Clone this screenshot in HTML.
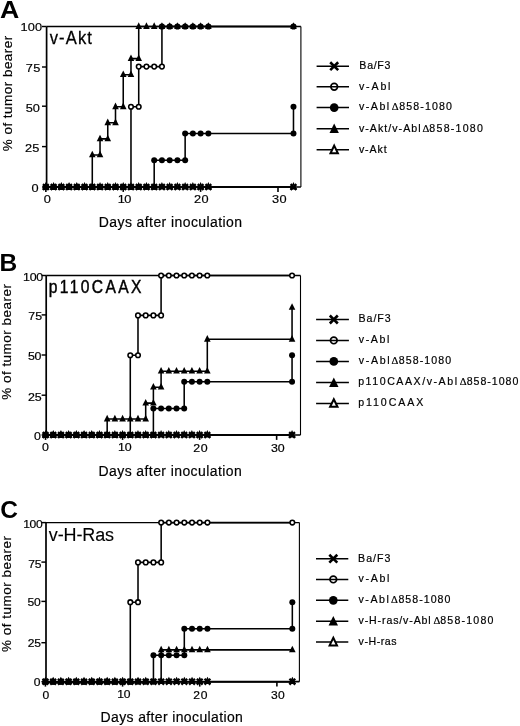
<!DOCTYPE html>
<html><head><meta charset="utf-8"><style>
html,body{margin:0;padding:0;background:#fff;}
body{width:520px;height:726px;overflow:hidden;}
svg{display:block;filter:grayscale(1);}
svg text{font-family:"Liberation Sans",sans-serif;fill:#000;stroke:#000;stroke-width:0.18px;}
</style></head><body>
<svg width="520" height="726" viewBox="0 0 520 726">
<path d="M46.6 26.5H300.9" stroke="#000" stroke-width="1.4" fill="none"/>
<path d="M300.9 26.5V187" stroke="#000" stroke-width="1.1" fill="none"/>
<path d="M46.6 26.5V187H300.9" stroke="#000" stroke-width="1.7" fill="none"/>
<path d="M42 26.5H46.6" stroke="#000" stroke-width="1.45"/>
<path d="M42 67H46.6" stroke="#000" stroke-width="1.45"/>
<path d="M42 106.2H46.6" stroke="#000" stroke-width="1.45"/>
<path d="M42 146.6H46.6" stroke="#000" stroke-width="1.45"/>
<path d="M42 187H46.6" stroke="#000" stroke-width="1.45"/>
<path d="M45.86 187V191.9" stroke="#000" stroke-width="1.6"/>
<path d="M123.24 187V191.9" stroke="#000" stroke-width="1.6"/>
<path d="M200.62 187V191.9" stroke="#000" stroke-width="1.6"/>
<path d="M278 187V191.9" stroke="#000" stroke-width="1.6"/>
<path d="M45.86 187 L53.6 187 L61.34 187 L69.07 187 L76.81 187 L84.55 187 L92.29 187 L100.03 187 L107.76 187 L115.5 187 L123.24 187 L130.98 187 L130.98 106.75 L138.72 106.75 L138.72 66.62 L146.45 66.62 L154.19 66.62 L161.93 66.62 L161.93 26.5 L169.67 26.5 L177.41 26.5 L185.14 26.5 L192.88 26.5 L200.62 26.5 L208.36 26.5 L293.48 26.5" stroke="#000" stroke-width="1.55" fill="none"/>
<path d="M45.86 187 L53.6 187 L61.34 187 L69.07 187 L76.81 187 L84.55 187 L92.29 187 L100.03 187 L107.76 187 L115.5 187 L123.24 187 L130.98 187 L138.72 187 L146.45 187 L154.19 187 L161.93 187 L169.67 187 L177.41 187 L185.14 187 L192.88 187 L200.62 187 L208.36 187 L293.48 187" stroke="#000" stroke-width="1.55" fill="none"/>
<path d="M45.86 187 L53.6 187 L61.34 187 L69.07 187 L76.81 187 L84.55 187 L92.29 187 L100.03 187 L107.76 187 L115.5 187 L123.24 187 L130.98 187 L138.72 187 L146.45 187 L154.19 187 L154.19 160.25 L161.93 160.25 L169.67 160.25 L177.41 160.25 L185.14 160.25 L185.14 133.5 L192.88 133.5 L200.62 133.5 L208.36 133.5 L293.48 133.5 L293.48 106.75" stroke="#000" stroke-width="1.55" fill="none"/>
<path d="M45.86 187 L53.6 187 L61.34 187 L69.07 187 L76.81 187 L84.55 187 L92.29 187 L92.29 154.9 L100.03 154.9 L100.03 138.85 L107.76 138.85 L107.76 122.8 L115.5 122.8 L115.5 106.75 L123.24 106.75 L123.24 74.65 L130.98 74.65 L130.98 58.6 L138.72 58.6 L138.72 26.5 L146.45 26.5 L154.19 26.5 L161.93 26.5 L169.67 26.5 L177.41 26.5 L185.14 26.5 L192.88 26.5 L200.62 26.5 L208.36 26.5 L293.48 26.5" stroke="#000" stroke-width="1.55" fill="none"/>
<path d="M45.86 187 L53.6 187 L61.34 187 L69.07 187 L76.81 187 L84.55 187 L92.29 187 L100.03 187 L107.76 187 L115.5 187 L123.24 187 L130.98 187 L138.72 187 L146.45 187 L154.19 187 L161.93 187 L169.67 187 L177.41 187 L185.14 187 L192.88 187 L200.62 187 L208.36 187 L293.48 187" stroke="#000" stroke-width="1.55" fill="none"/>
<circle cx="45.86" cy="187" r="2.3" fill="#fff" stroke="#000" stroke-width="1.55"/><circle cx="53.6" cy="187" r="2.3" fill="#fff" stroke="#000" stroke-width="1.55"/><circle cx="61.34" cy="187" r="2.3" fill="#fff" stroke="#000" stroke-width="1.55"/><circle cx="69.07" cy="187" r="2.3" fill="#fff" stroke="#000" stroke-width="1.55"/><circle cx="76.81" cy="187" r="2.3" fill="#fff" stroke="#000" stroke-width="1.55"/><circle cx="84.55" cy="187" r="2.3" fill="#fff" stroke="#000" stroke-width="1.55"/><circle cx="92.29" cy="187" r="2.3" fill="#fff" stroke="#000" stroke-width="1.55"/><circle cx="100.03" cy="187" r="2.3" fill="#fff" stroke="#000" stroke-width="1.55"/><circle cx="107.76" cy="187" r="2.3" fill="#fff" stroke="#000" stroke-width="1.55"/><circle cx="115.5" cy="187" r="2.3" fill="#fff" stroke="#000" stroke-width="1.55"/><circle cx="123.24" cy="187" r="2.3" fill="#fff" stroke="#000" stroke-width="1.55"/><circle cx="130.98" cy="187" r="2.3" fill="#fff" stroke="#000" stroke-width="1.55"/><circle cx="130.98" cy="106.75" r="2.3" fill="#fff" stroke="#000" stroke-width="1.55"/><circle cx="138.72" cy="106.75" r="2.3" fill="#fff" stroke="#000" stroke-width="1.55"/><circle cx="138.72" cy="66.62" r="2.3" fill="#fff" stroke="#000" stroke-width="1.55"/><circle cx="146.45" cy="66.62" r="2.3" fill="#fff" stroke="#000" stroke-width="1.55"/><circle cx="154.19" cy="66.62" r="2.3" fill="#fff" stroke="#000" stroke-width="1.55"/><circle cx="161.93" cy="66.62" r="2.3" fill="#fff" stroke="#000" stroke-width="1.55"/><circle cx="161.93" cy="26.5" r="2.3" fill="#fff" stroke="#000" stroke-width="1.55"/><circle cx="169.67" cy="26.5" r="2.3" fill="#fff" stroke="#000" stroke-width="1.55"/><circle cx="177.41" cy="26.5" r="2.3" fill="#fff" stroke="#000" stroke-width="1.55"/><circle cx="185.14" cy="26.5" r="2.3" fill="#fff" stroke="#000" stroke-width="1.55"/><circle cx="192.88" cy="26.5" r="2.3" fill="#fff" stroke="#000" stroke-width="1.55"/><circle cx="200.62" cy="26.5" r="2.3" fill="#fff" stroke="#000" stroke-width="1.55"/><circle cx="208.36" cy="26.5" r="2.3" fill="#fff" stroke="#000" stroke-width="1.55"/><circle cx="293.48" cy="26.5" r="2.3" fill="#fff" stroke="#000" stroke-width="1.55"/>
<path d="M45.86 183.45L48.51 188.75L43.21 188.75Z" fill="#fff" stroke="#000" stroke-width="1.3"/><path d="M53.6 183.45L56.25 188.75L50.95 188.75Z" fill="#fff" stroke="#000" stroke-width="1.3"/><path d="M61.34 183.45L63.99 188.75L58.69 188.75Z" fill="#fff" stroke="#000" stroke-width="1.3"/><path d="M69.07 183.45L71.72 188.75L66.42 188.75Z" fill="#fff" stroke="#000" stroke-width="1.3"/><path d="M76.81 183.45L79.46 188.75L74.16 188.75Z" fill="#fff" stroke="#000" stroke-width="1.3"/><path d="M84.55 183.45L87.2 188.75L81.9 188.75Z" fill="#fff" stroke="#000" stroke-width="1.3"/><path d="M92.29 183.45L94.94 188.75L89.64 188.75Z" fill="#fff" stroke="#000" stroke-width="1.3"/><path d="M100.03 183.45L102.68 188.75L97.38 188.75Z" fill="#fff" stroke="#000" stroke-width="1.3"/><path d="M107.76 183.45L110.41 188.75L105.11 188.75Z" fill="#fff" stroke="#000" stroke-width="1.3"/><path d="M115.5 183.45L118.15 188.75L112.85 188.75Z" fill="#fff" stroke="#000" stroke-width="1.3"/><path d="M123.24 183.45L125.89 188.75L120.59 188.75Z" fill="#fff" stroke="#000" stroke-width="1.3"/><path d="M130.98 183.45L133.63 188.75L128.33 188.75Z" fill="#fff" stroke="#000" stroke-width="1.3"/><path d="M138.72 183.45L141.37 188.75L136.07 188.75Z" fill="#fff" stroke="#000" stroke-width="1.3"/><path d="M146.45 183.45L149.1 188.75L143.8 188.75Z" fill="#fff" stroke="#000" stroke-width="1.3"/><path d="M154.19 183.45L156.84 188.75L151.54 188.75Z" fill="#fff" stroke="#000" stroke-width="1.3"/><path d="M161.93 183.45L164.58 188.75L159.28 188.75Z" fill="#fff" stroke="#000" stroke-width="1.3"/><path d="M169.67 183.45L172.32 188.75L167.02 188.75Z" fill="#fff" stroke="#000" stroke-width="1.3"/><path d="M177.41 183.45L180.06 188.75L174.76 188.75Z" fill="#fff" stroke="#000" stroke-width="1.3"/><path d="M185.14 183.45L187.79 188.75L182.49 188.75Z" fill="#fff" stroke="#000" stroke-width="1.3"/><path d="M192.88 183.45L195.53 188.75L190.23 188.75Z" fill="#fff" stroke="#000" stroke-width="1.3"/><path d="M200.62 183.45L203.27 188.75L197.97 188.75Z" fill="#fff" stroke="#000" stroke-width="1.3"/><path d="M208.36 183.45L211.01 188.75L205.71 188.75Z" fill="#fff" stroke="#000" stroke-width="1.3"/><path d="M293.48 183.45L296.13 188.75L290.83 188.75Z" fill="#fff" stroke="#000" stroke-width="1.3"/>
<circle cx="45.86" cy="187" r="3" fill="#000"/><circle cx="53.6" cy="187" r="3" fill="#000"/><circle cx="61.34" cy="187" r="3" fill="#000"/><circle cx="69.07" cy="187" r="3" fill="#000"/><circle cx="76.81" cy="187" r="3" fill="#000"/><circle cx="84.55" cy="187" r="3" fill="#000"/><circle cx="92.29" cy="187" r="3" fill="#000"/><circle cx="100.03" cy="187" r="3" fill="#000"/><circle cx="107.76" cy="187" r="3" fill="#000"/><circle cx="115.5" cy="187" r="3" fill="#000"/><circle cx="123.24" cy="187" r="3" fill="#000"/><circle cx="130.98" cy="187" r="3" fill="#000"/><circle cx="138.72" cy="187" r="3" fill="#000"/><circle cx="146.45" cy="187" r="3" fill="#000"/><circle cx="154.19" cy="187" r="3" fill="#000"/><circle cx="154.19" cy="160.25" r="3" fill="#000"/><circle cx="161.93" cy="160.25" r="3" fill="#000"/><circle cx="169.67" cy="160.25" r="3" fill="#000"/><circle cx="177.41" cy="160.25" r="3" fill="#000"/><circle cx="185.14" cy="160.25" r="3" fill="#000"/><circle cx="185.14" cy="133.5" r="3" fill="#000"/><circle cx="192.88" cy="133.5" r="3" fill="#000"/><circle cx="200.62" cy="133.5" r="3" fill="#000"/><circle cx="208.36" cy="133.5" r="3" fill="#000"/><circle cx="293.48" cy="133.5" r="3" fill="#000"/><circle cx="293.48" cy="106.75" r="3" fill="#000"/>
<path d="M45.86 182.8L49.16 189.4L42.56 189.4Z" fill="#000"/><path d="M53.6 182.8L56.9 189.4L50.3 189.4Z" fill="#000"/><path d="M61.34 182.8L64.64 189.4L58.04 189.4Z" fill="#000"/><path d="M69.07 182.8L72.37 189.4L65.77 189.4Z" fill="#000"/><path d="M76.81 182.8L80.11 189.4L73.51 189.4Z" fill="#000"/><path d="M84.55 182.8L87.85 189.4L81.25 189.4Z" fill="#000"/><path d="M92.29 182.8L95.59 189.4L88.99 189.4Z" fill="#000"/><path d="M92.29 150.7L95.59 157.3L88.99 157.3Z" fill="#000"/><path d="M100.03 150.7L103.33 157.3L96.73 157.3Z" fill="#000"/><path d="M100.03 134.65L103.33 141.25L96.73 141.25Z" fill="#000"/><path d="M107.76 134.65L111.06 141.25L104.46 141.25Z" fill="#000"/><path d="M107.76 118.6L111.06 125.2L104.46 125.2Z" fill="#000"/><path d="M115.5 118.6L118.8 125.2L112.2 125.2Z" fill="#000"/><path d="M115.5 102.55L118.8 109.15L112.2 109.15Z" fill="#000"/><path d="M123.24 102.55L126.54 109.15L119.94 109.15Z" fill="#000"/><path d="M123.24 70.45L126.54 77.05L119.94 77.05Z" fill="#000"/><path d="M130.98 70.45L134.28 77.05L127.68 77.05Z" fill="#000"/><path d="M130.98 54.4L134.28 61L127.68 61Z" fill="#000"/><path d="M138.72 54.4L142.02 61L135.42 61Z" fill="#000"/><path d="M138.72 22.3L142.02 28.9L135.42 28.9Z" fill="#000"/><path d="M146.45 22.3L149.75 28.9L143.15 28.9Z" fill="#000"/><path d="M154.19 22.3L157.49 28.9L150.89 28.9Z" fill="#000"/><path d="M161.93 22.3L165.23 28.9L158.63 28.9Z" fill="#000"/><path d="M169.67 22.3L172.97 28.9L166.37 28.9Z" fill="#000"/><path d="M177.41 22.3L180.71 28.9L174.11 28.9Z" fill="#000"/><path d="M185.14 22.3L188.44 28.9L181.84 28.9Z" fill="#000"/><path d="M192.88 22.3L196.18 28.9L189.58 28.9Z" fill="#000"/><path d="M200.62 22.3L203.92 28.9L197.32 28.9Z" fill="#000"/><path d="M208.36 22.3L211.66 28.9L205.06 28.9Z" fill="#000"/><path d="M293.48 22.3L296.78 28.9L290.18 28.9Z" fill="#000"/>
<path d="M42.96 184.1L48.76 189.9M42.96 189.9L48.76 184.1" stroke="#000" stroke-width="2.2" fill="none"/><path d="M50.7 184.1L56.5 189.9M50.7 189.9L56.5 184.1" stroke="#000" stroke-width="2.2" fill="none"/><path d="M58.44 184.1L64.24 189.9M58.44 189.9L64.24 184.1" stroke="#000" stroke-width="2.2" fill="none"/><path d="M66.17 184.1L71.97 189.9M66.17 189.9L71.97 184.1" stroke="#000" stroke-width="2.2" fill="none"/><path d="M73.91 184.1L79.71 189.9M73.91 189.9L79.71 184.1" stroke="#000" stroke-width="2.2" fill="none"/><path d="M81.65 184.1L87.45 189.9M81.65 189.9L87.45 184.1" stroke="#000" stroke-width="2.2" fill="none"/><path d="M89.39 184.1L95.19 189.9M89.39 189.9L95.19 184.1" stroke="#000" stroke-width="2.2" fill="none"/><path d="M97.13 184.1L102.93 189.9M97.13 189.9L102.93 184.1" stroke="#000" stroke-width="2.2" fill="none"/><path d="M104.86 184.1L110.66 189.9M104.86 189.9L110.66 184.1" stroke="#000" stroke-width="2.2" fill="none"/><path d="M112.6 184.1L118.4 189.9M112.6 189.9L118.4 184.1" stroke="#000" stroke-width="2.2" fill="none"/><path d="M120.34 184.1L126.14 189.9M120.34 189.9L126.14 184.1" stroke="#000" stroke-width="2.2" fill="none"/><path d="M128.08 184.1L133.88 189.9M128.08 189.9L133.88 184.1" stroke="#000" stroke-width="2.2" fill="none"/><path d="M135.82 184.1L141.62 189.9M135.82 189.9L141.62 184.1" stroke="#000" stroke-width="2.2" fill="none"/><path d="M143.55 184.1L149.35 189.9M143.55 189.9L149.35 184.1" stroke="#000" stroke-width="2.2" fill="none"/><path d="M151.29 184.1L157.09 189.9M151.29 189.9L157.09 184.1" stroke="#000" stroke-width="2.2" fill="none"/><path d="M159.03 184.1L164.83 189.9M159.03 189.9L164.83 184.1" stroke="#000" stroke-width="2.2" fill="none"/><path d="M166.77 184.1L172.57 189.9M166.77 189.9L172.57 184.1" stroke="#000" stroke-width="2.2" fill="none"/><path d="M174.51 184.1L180.31 189.9M174.51 189.9L180.31 184.1" stroke="#000" stroke-width="2.2" fill="none"/><path d="M182.24 184.1L188.04 189.9M182.24 189.9L188.04 184.1" stroke="#000" stroke-width="2.2" fill="none"/><path d="M189.98 184.1L195.78 189.9M189.98 189.9L195.78 184.1" stroke="#000" stroke-width="2.2" fill="none"/><path d="M197.72 184.1L203.52 189.9M197.72 189.9L203.52 184.1" stroke="#000" stroke-width="2.2" fill="none"/><path d="M205.46 184.1L211.26 189.9M205.46 189.9L211.26 184.1" stroke="#000" stroke-width="2.2" fill="none"/><path d="M290.58 184.1L296.38 189.9M290.58 189.9L296.38 184.1" stroke="#000" stroke-width="2.2" fill="none"/>
<path d="M316.6 66.2H349" stroke="#000" stroke-width="1.5"/>
<path d="M330.21 62.21L338.19 70.19M330.21 70.19L338.19 62.21" stroke="#000" stroke-width="2.6" fill="none"/>
<path d="M316.6 86.8H349" stroke="#000" stroke-width="1.5"/>
<circle cx="334.2" cy="86.8" r="3.33" fill="none" stroke="#000" stroke-width="1.7"/>
<path d="M316.6 107.6H349" stroke="#000" stroke-width="1.5"/>
<circle cx="334.2" cy="107.6" r="4.35" fill="#000"/>
<path d="M316.6 128.7H349" stroke="#000" stroke-width="1.5"/>
<path d="M334.2 123.5L338.9 133.1L329.5 133.1Z" fill="#000"/>
<path d="M316.6 149.8H349" stroke="#000" stroke-width="1.5"/>
<path d="M334.2 145.6L337.9 153.2L330.5 153.2Z" fill="#fff" stroke="#000" stroke-width="2"/>
<path d="M46.2 275.5H300.5" stroke="#000" stroke-width="1.4" fill="none"/>
<path d="M300.5 275.5V435" stroke="#000" stroke-width="1.1" fill="none"/>
<path d="M46.2 275.5V435H300.5" stroke="#000" stroke-width="1.7" fill="none"/>
<path d="M41.6 275.5H46.2" stroke="#000" stroke-width="1.45"/>
<path d="M41.6 314.9H46.2" stroke="#000" stroke-width="1.45"/>
<path d="M41.6 355H46.2" stroke="#000" stroke-width="1.45"/>
<path d="M41.6 395.2H46.2" stroke="#000" stroke-width="1.45"/>
<path d="M41.6 435H46.2" stroke="#000" stroke-width="1.45"/>
<path d="M45.55 435V439.9" stroke="#000" stroke-width="1.6"/>
<path d="M122.58 435V439.9" stroke="#000" stroke-width="1.6"/>
<path d="M199.61 435V439.9" stroke="#000" stroke-width="1.6"/>
<path d="M276.64 435V439.9" stroke="#000" stroke-width="1.6"/>
<path d="M45.55 435 L53.25 435 L60.96 435 L68.66 435 L76.36 435 L84.06 435 L91.77 435 L99.47 435 L107.17 435 L114.88 435 L122.58 435 L130.28 435 L130.28 355.25 L137.99 355.25 L137.99 315.38 L145.69 315.38 L153.39 315.38 L161.09 315.38 L161.09 275.5 L168.8 275.5 L176.5 275.5 L184.2 275.5 L191.91 275.5 L199.61 275.5 L207.31 275.5 L292.05 275.5" stroke="#000" stroke-width="1.55" fill="none"/>
<path d="M45.55 435 L53.25 435 L60.96 435 L68.66 435 L76.36 435 L84.06 435 L91.77 435 L99.47 435 L107.17 435 L114.88 435 L122.58 435 L130.28 435 L137.99 435 L145.69 435 L153.39 435 L161.09 435 L168.8 435 L176.5 435 L184.2 435 L191.91 435 L199.61 435 L207.31 435 L292.05 435" stroke="#000" stroke-width="1.55" fill="none"/>
<path d="M45.55 435 L53.25 435 L60.96 435 L68.66 435 L76.36 435 L84.06 435 L91.77 435 L99.47 435 L107.17 435 L114.88 435 L122.58 435 L130.28 435 L137.99 435 L145.69 435 L153.39 435 L153.39 408.42 L161.09 408.42 L168.8 408.42 L176.5 408.42 L184.2 408.42 L184.2 381.83 L191.91 381.83 L199.61 381.83 L207.31 381.83 L292.05 381.83 L292.05 355.25" stroke="#000" stroke-width="1.55" fill="none"/>
<path d="M45.55 435 L53.25 435 L60.96 435 L68.66 435 L76.36 435 L84.06 435 L91.77 435 L99.47 435 L107.17 435 L107.17 419.05 L114.88 419.05 L122.58 419.05 L130.28 419.05 L137.99 419.05 L145.69 419.05 L145.69 403.1 L153.39 403.1 L153.39 387.15 L161.09 387.15 L161.09 371.2 L168.8 371.2 L176.5 371.2 L184.2 371.2 L191.91 371.2 L199.61 371.2 L207.31 371.2 L207.31 339.3 L292.05 339.3 L292.05 307.4" stroke="#000" stroke-width="1.55" fill="none"/>
<path d="M45.55 435 L53.25 435 L60.96 435 L68.66 435 L76.36 435 L84.06 435 L91.77 435 L99.47 435 L107.17 435 L114.88 435 L122.58 435 L130.28 435 L137.99 435 L145.69 435 L153.39 435 L161.09 435 L168.8 435 L176.5 435 L184.2 435 L191.91 435 L199.61 435 L207.31 435 L292.05 435" stroke="#000" stroke-width="1.55" fill="none"/>
<circle cx="45.55" cy="435" r="2.3" fill="#fff" stroke="#000" stroke-width="1.55"/><circle cx="53.25" cy="435" r="2.3" fill="#fff" stroke="#000" stroke-width="1.55"/><circle cx="60.96" cy="435" r="2.3" fill="#fff" stroke="#000" stroke-width="1.55"/><circle cx="68.66" cy="435" r="2.3" fill="#fff" stroke="#000" stroke-width="1.55"/><circle cx="76.36" cy="435" r="2.3" fill="#fff" stroke="#000" stroke-width="1.55"/><circle cx="84.06" cy="435" r="2.3" fill="#fff" stroke="#000" stroke-width="1.55"/><circle cx="91.77" cy="435" r="2.3" fill="#fff" stroke="#000" stroke-width="1.55"/><circle cx="99.47" cy="435" r="2.3" fill="#fff" stroke="#000" stroke-width="1.55"/><circle cx="107.17" cy="435" r="2.3" fill="#fff" stroke="#000" stroke-width="1.55"/><circle cx="114.88" cy="435" r="2.3" fill="#fff" stroke="#000" stroke-width="1.55"/><circle cx="122.58" cy="435" r="2.3" fill="#fff" stroke="#000" stroke-width="1.55"/><circle cx="130.28" cy="435" r="2.3" fill="#fff" stroke="#000" stroke-width="1.55"/><circle cx="130.28" cy="355.25" r="2.3" fill="#fff" stroke="#000" stroke-width="1.55"/><circle cx="137.99" cy="355.25" r="2.3" fill="#fff" stroke="#000" stroke-width="1.55"/><circle cx="137.99" cy="315.38" r="2.3" fill="#fff" stroke="#000" stroke-width="1.55"/><circle cx="145.69" cy="315.38" r="2.3" fill="#fff" stroke="#000" stroke-width="1.55"/><circle cx="153.39" cy="315.38" r="2.3" fill="#fff" stroke="#000" stroke-width="1.55"/><circle cx="161.09" cy="315.38" r="2.3" fill="#fff" stroke="#000" stroke-width="1.55"/><circle cx="161.09" cy="275.5" r="2.3" fill="#fff" stroke="#000" stroke-width="1.55"/><circle cx="168.8" cy="275.5" r="2.3" fill="#fff" stroke="#000" stroke-width="1.55"/><circle cx="176.5" cy="275.5" r="2.3" fill="#fff" stroke="#000" stroke-width="1.55"/><circle cx="184.2" cy="275.5" r="2.3" fill="#fff" stroke="#000" stroke-width="1.55"/><circle cx="191.91" cy="275.5" r="2.3" fill="#fff" stroke="#000" stroke-width="1.55"/><circle cx="199.61" cy="275.5" r="2.3" fill="#fff" stroke="#000" stroke-width="1.55"/><circle cx="207.31" cy="275.5" r="2.3" fill="#fff" stroke="#000" stroke-width="1.55"/><circle cx="292.05" cy="275.5" r="2.3" fill="#fff" stroke="#000" stroke-width="1.55"/>
<path d="M45.55 431.45L48.2 436.75L42.9 436.75Z" fill="#fff" stroke="#000" stroke-width="1.3"/><path d="M53.25 431.45L55.9 436.75L50.6 436.75Z" fill="#fff" stroke="#000" stroke-width="1.3"/><path d="M60.96 431.45L63.61 436.75L58.31 436.75Z" fill="#fff" stroke="#000" stroke-width="1.3"/><path d="M68.66 431.45L71.31 436.75L66.01 436.75Z" fill="#fff" stroke="#000" stroke-width="1.3"/><path d="M76.36 431.45L79.01 436.75L73.71 436.75Z" fill="#fff" stroke="#000" stroke-width="1.3"/><path d="M84.06 431.45L86.71 436.75L81.42 436.75Z" fill="#fff" stroke="#000" stroke-width="1.3"/><path d="M91.77 431.45L94.42 436.75L89.12 436.75Z" fill="#fff" stroke="#000" stroke-width="1.3"/><path d="M99.47 431.45L102.12 436.75L96.82 436.75Z" fill="#fff" stroke="#000" stroke-width="1.3"/><path d="M107.17 431.45L109.82 436.75L104.52 436.75Z" fill="#fff" stroke="#000" stroke-width="1.3"/><path d="M114.88 431.45L117.53 436.75L112.23 436.75Z" fill="#fff" stroke="#000" stroke-width="1.3"/><path d="M122.58 431.45L125.23 436.75L119.93 436.75Z" fill="#fff" stroke="#000" stroke-width="1.3"/><path d="M130.28 431.45L132.93 436.75L127.63 436.75Z" fill="#fff" stroke="#000" stroke-width="1.3"/><path d="M137.99 431.45L140.64 436.75L135.34 436.75Z" fill="#fff" stroke="#000" stroke-width="1.3"/><path d="M145.69 431.45L148.34 436.75L143.04 436.75Z" fill="#fff" stroke="#000" stroke-width="1.3"/><path d="M153.39 431.45L156.04 436.75L150.74 436.75Z" fill="#fff" stroke="#000" stroke-width="1.3"/><path d="M161.09 431.45L163.75 436.75L158.44 436.75Z" fill="#fff" stroke="#000" stroke-width="1.3"/><path d="M168.8 431.45L171.45 436.75L166.15 436.75Z" fill="#fff" stroke="#000" stroke-width="1.3"/><path d="M176.5 431.45L179.15 436.75L173.85 436.75Z" fill="#fff" stroke="#000" stroke-width="1.3"/><path d="M184.2 431.45L186.85 436.75L181.55 436.75Z" fill="#fff" stroke="#000" stroke-width="1.3"/><path d="M191.91 431.45L194.56 436.75L189.26 436.75Z" fill="#fff" stroke="#000" stroke-width="1.3"/><path d="M199.61 431.45L202.26 436.75L196.96 436.75Z" fill="#fff" stroke="#000" stroke-width="1.3"/><path d="M207.31 431.45L209.96 436.75L204.66 436.75Z" fill="#fff" stroke="#000" stroke-width="1.3"/><path d="M292.05 431.45L294.7 436.75L289.4 436.75Z" fill="#fff" stroke="#000" stroke-width="1.3"/>
<circle cx="45.55" cy="435" r="3" fill="#000"/><circle cx="53.25" cy="435" r="3" fill="#000"/><circle cx="60.96" cy="435" r="3" fill="#000"/><circle cx="68.66" cy="435" r="3" fill="#000"/><circle cx="76.36" cy="435" r="3" fill="#000"/><circle cx="84.06" cy="435" r="3" fill="#000"/><circle cx="91.77" cy="435" r="3" fill="#000"/><circle cx="99.47" cy="435" r="3" fill="#000"/><circle cx="107.17" cy="435" r="3" fill="#000"/><circle cx="114.88" cy="435" r="3" fill="#000"/><circle cx="122.58" cy="435" r="3" fill="#000"/><circle cx="130.28" cy="435" r="3" fill="#000"/><circle cx="137.99" cy="435" r="3" fill="#000"/><circle cx="145.69" cy="435" r="3" fill="#000"/><circle cx="153.39" cy="435" r="3" fill="#000"/><circle cx="153.39" cy="408.42" r="3" fill="#000"/><circle cx="161.09" cy="408.42" r="3" fill="#000"/><circle cx="168.8" cy="408.42" r="3" fill="#000"/><circle cx="176.5" cy="408.42" r="3" fill="#000"/><circle cx="184.2" cy="408.42" r="3" fill="#000"/><circle cx="184.2" cy="381.83" r="3" fill="#000"/><circle cx="191.91" cy="381.83" r="3" fill="#000"/><circle cx="199.61" cy="381.83" r="3" fill="#000"/><circle cx="207.31" cy="381.83" r="3" fill="#000"/><circle cx="292.05" cy="381.83" r="3" fill="#000"/><circle cx="292.05" cy="355.25" r="3" fill="#000"/>
<path d="M45.55 430.8L48.85 437.4L42.25 437.4Z" fill="#000"/><path d="M53.25 430.8L56.55 437.4L49.95 437.4Z" fill="#000"/><path d="M60.96 430.8L64.26 437.4L57.66 437.4Z" fill="#000"/><path d="M68.66 430.8L71.96 437.4L65.36 437.4Z" fill="#000"/><path d="M76.36 430.8L79.66 437.4L73.06 437.4Z" fill="#000"/><path d="M84.06 430.8L87.36 437.4L80.77 437.4Z" fill="#000"/><path d="M91.77 430.8L95.07 437.4L88.47 437.4Z" fill="#000"/><path d="M99.47 430.8L102.77 437.4L96.17 437.4Z" fill="#000"/><path d="M107.17 430.8L110.47 437.4L103.87 437.4Z" fill="#000"/><path d="M107.17 414.85L110.47 421.45L103.87 421.45Z" fill="#000"/><path d="M114.88 414.85L118.18 421.45L111.58 421.45Z" fill="#000"/><path d="M122.58 414.85L125.88 421.45L119.28 421.45Z" fill="#000"/><path d="M130.28 414.85L133.58 421.45L126.98 421.45Z" fill="#000"/><path d="M137.99 414.85L141.29 421.45L134.69 421.45Z" fill="#000"/><path d="M145.69 414.85L148.99 421.45L142.39 421.45Z" fill="#000"/><path d="M145.69 398.9L148.99 405.5L142.39 405.5Z" fill="#000"/><path d="M153.39 398.9L156.69 405.5L150.09 405.5Z" fill="#000"/><path d="M153.39 382.95L156.69 389.55L150.09 389.55Z" fill="#000"/><path d="M161.09 382.95L164.4 389.55L157.79 389.55Z" fill="#000"/><path d="M161.09 367L164.4 373.6L157.79 373.6Z" fill="#000"/><path d="M168.8 367L172.1 373.6L165.5 373.6Z" fill="#000"/><path d="M176.5 367L179.8 373.6L173.2 373.6Z" fill="#000"/><path d="M184.2 367L187.5 373.6L180.9 373.6Z" fill="#000"/><path d="M191.91 367L195.21 373.6L188.61 373.6Z" fill="#000"/><path d="M199.61 367L202.91 373.6L196.31 373.6Z" fill="#000"/><path d="M207.31 367L210.61 373.6L204.01 373.6Z" fill="#000"/><path d="M207.31 335.1L210.61 341.7L204.01 341.7Z" fill="#000"/><path d="M292.05 335.1L295.35 341.7L288.75 341.7Z" fill="#000"/><path d="M292.05 303.2L295.35 309.8L288.75 309.8Z" fill="#000"/>
<path d="M42.65 432.1L48.45 437.9M42.65 437.9L48.45 432.1" stroke="#000" stroke-width="2.2" fill="none"/><path d="M50.35 432.1L56.15 437.9M50.35 437.9L56.15 432.1" stroke="#000" stroke-width="2.2" fill="none"/><path d="M58.06 432.1L63.86 437.9M58.06 437.9L63.86 432.1" stroke="#000" stroke-width="2.2" fill="none"/><path d="M65.76 432.1L71.56 437.9M65.76 437.9L71.56 432.1" stroke="#000" stroke-width="2.2" fill="none"/><path d="M73.46 432.1L79.26 437.9M73.46 437.9L79.26 432.1" stroke="#000" stroke-width="2.2" fill="none"/><path d="M81.16 432.1L86.97 437.9M81.16 437.9L86.97 432.1" stroke="#000" stroke-width="2.2" fill="none"/><path d="M88.87 432.1L94.67 437.9M88.87 437.9L94.67 432.1" stroke="#000" stroke-width="2.2" fill="none"/><path d="M96.57 432.1L102.37 437.9M96.57 437.9L102.37 432.1" stroke="#000" stroke-width="2.2" fill="none"/><path d="M104.27 432.1L110.07 437.9M104.27 437.9L110.07 432.1" stroke="#000" stroke-width="2.2" fill="none"/><path d="M111.98 432.1L117.78 437.9M111.98 437.9L117.78 432.1" stroke="#000" stroke-width="2.2" fill="none"/><path d="M119.68 432.1L125.48 437.9M119.68 437.9L125.48 432.1" stroke="#000" stroke-width="2.2" fill="none"/><path d="M127.38 432.1L133.18 437.9M127.38 437.9L133.18 432.1" stroke="#000" stroke-width="2.2" fill="none"/><path d="M135.09 432.1L140.89 437.9M135.09 437.9L140.89 432.1" stroke="#000" stroke-width="2.2" fill="none"/><path d="M142.79 432.1L148.59 437.9M142.79 437.9L148.59 432.1" stroke="#000" stroke-width="2.2" fill="none"/><path d="M150.49 432.1L156.29 437.9M150.49 437.9L156.29 432.1" stroke="#000" stroke-width="2.2" fill="none"/><path d="M158.19 432.1L164 437.9M158.19 437.9L164 432.1" stroke="#000" stroke-width="2.2" fill="none"/><path d="M165.9 432.1L171.7 437.9M165.9 437.9L171.7 432.1" stroke="#000" stroke-width="2.2" fill="none"/><path d="M173.6 432.1L179.4 437.9M173.6 437.9L179.4 432.1" stroke="#000" stroke-width="2.2" fill="none"/><path d="M181.3 432.1L187.1 437.9M181.3 437.9L187.1 432.1" stroke="#000" stroke-width="2.2" fill="none"/><path d="M189.01 432.1L194.81 437.9M189.01 437.9L194.81 432.1" stroke="#000" stroke-width="2.2" fill="none"/><path d="M196.71 432.1L202.51 437.9M196.71 437.9L202.51 432.1" stroke="#000" stroke-width="2.2" fill="none"/><path d="M204.41 432.1L210.21 437.9M204.41 437.9L210.21 432.1" stroke="#000" stroke-width="2.2" fill="none"/><path d="M289.15 432.1L294.95 437.9M289.15 437.9L294.95 432.1" stroke="#000" stroke-width="2.2" fill="none"/>
<path d="M316.1 319.5H348.9" stroke="#000" stroke-width="1.5"/>
<path d="M329.81 315.51L337.79 323.49M329.81 323.49L337.79 315.51" stroke="#000" stroke-width="2.6" fill="none"/>
<path d="M316.1 340.4H348.9" stroke="#000" stroke-width="1.5"/>
<circle cx="333.8" cy="340.4" r="3.33" fill="none" stroke="#000" stroke-width="1.7"/>
<path d="M316.1 361.4H348.9" stroke="#000" stroke-width="1.5"/>
<circle cx="333.8" cy="361.4" r="4.35" fill="#000"/>
<path d="M316.1 382.6H348.9" stroke="#000" stroke-width="1.5"/>
<path d="M333.8 377.4L338.5 387L329.1 387Z" fill="#000"/>
<path d="M316.1 403.4H348.9" stroke="#000" stroke-width="1.5"/>
<path d="M333.8 399.2L337.5 406.8L330.1 406.8Z" fill="#fff" stroke="#000" stroke-width="2"/>
<path d="M46 522.6H299.4" stroke="#000" stroke-width="1.4" fill="none"/>
<path d="M299.4 522.6V681.7" stroke="#000" stroke-width="1.1" fill="none"/>
<path d="M46 522.6V681.7H299.4" stroke="#000" stroke-width="1.7" fill="none"/>
<path d="M41.4 522.6H46" stroke="#000" stroke-width="1.45"/>
<path d="M41.4 562.1H46" stroke="#000" stroke-width="1.45"/>
<path d="M41.4 601.4H46" stroke="#000" stroke-width="1.45"/>
<path d="M41.4 642.7H46" stroke="#000" stroke-width="1.45"/>
<path d="M41.4 681.7H46" stroke="#000" stroke-width="1.45"/>
<path d="M45.42 681.7V686.6" stroke="#000" stroke-width="1.6"/>
<path d="M122.58 681.7V686.6" stroke="#000" stroke-width="1.6"/>
<path d="M199.74 681.7V686.6" stroke="#000" stroke-width="1.6"/>
<path d="M276.9 681.7V686.6" stroke="#000" stroke-width="1.6"/>
<path d="M45.42 681.7 L53.14 681.7 L60.85 681.7 L68.57 681.7 L76.28 681.7 L84 681.7 L91.72 681.7 L99.43 681.7 L107.15 681.7 L114.86 681.7 L122.58 681.7 L130.3 681.7 L130.3 602.15 L138.01 602.15 L138.01 562.38 L145.73 562.38 L153.44 562.38 L161.16 562.38 L161.16 522.6 L168.88 522.6 L176.59 522.6 L184.31 522.6 L192.02 522.6 L199.74 522.6 L207.46 522.6 L292.33 522.6" stroke="#000" stroke-width="1.55" fill="none"/>
<path d="M45.42 681.7 L53.14 681.7 L60.85 681.7 L68.57 681.7 L76.28 681.7 L84 681.7 L91.72 681.7 L99.43 681.7 L107.15 681.7 L114.86 681.7 L122.58 681.7 L130.3 681.7 L138.01 681.7 L145.73 681.7 L153.44 681.7 L161.16 681.7 L168.88 681.7 L176.59 681.7 L184.31 681.7 L192.02 681.7 L199.74 681.7 L207.46 681.7 L292.33 681.7" stroke="#000" stroke-width="1.55" fill="none"/>
<path d="M45.42 681.7 L53.14 681.7 L60.85 681.7 L68.57 681.7 L76.28 681.7 L84 681.7 L91.72 681.7 L99.43 681.7 L107.15 681.7 L114.86 681.7 L122.58 681.7 L130.3 681.7 L138.01 681.7 L145.73 681.7 L153.44 681.7 L153.44 655.18 L161.16 655.18 L168.88 655.18 L176.59 655.18 L184.31 655.18 L184.31 628.67 L192.02 628.67 L199.74 628.67 L207.46 628.67 L292.33 628.67 L292.33 602.15" stroke="#000" stroke-width="1.55" fill="none"/>
<path d="M45.42 681.7 L53.14 681.7 L60.85 681.7 L68.57 681.7 L76.28 681.7 L84 681.7 L91.72 681.7 L99.43 681.7 L107.15 681.7 L114.86 681.7 L122.58 681.7 L130.3 681.7 L138.01 681.7 L145.73 681.7 L153.44 681.7 L161.16 681.7 L161.16 649.88 L168.88 649.88 L176.59 649.88 L184.31 649.88 L192.02 649.88 L199.74 649.88 L207.46 649.88 L292.33 649.88" stroke="#000" stroke-width="1.55" fill="none"/>
<path d="M45.42 681.7 L53.14 681.7 L60.85 681.7 L68.57 681.7 L76.28 681.7 L84 681.7 L91.72 681.7 L99.43 681.7 L107.15 681.7 L114.86 681.7 L122.58 681.7 L130.3 681.7 L138.01 681.7 L145.73 681.7 L153.44 681.7 L161.16 681.7 L168.88 681.7 L176.59 681.7 L184.31 681.7 L192.02 681.7 L199.74 681.7 L207.46 681.7 L292.33 681.7" stroke="#000" stroke-width="1.55" fill="none"/>
<circle cx="45.42" cy="681.7" r="2.3" fill="#fff" stroke="#000" stroke-width="1.55"/><circle cx="53.14" cy="681.7" r="2.3" fill="#fff" stroke="#000" stroke-width="1.55"/><circle cx="60.85" cy="681.7" r="2.3" fill="#fff" stroke="#000" stroke-width="1.55"/><circle cx="68.57" cy="681.7" r="2.3" fill="#fff" stroke="#000" stroke-width="1.55"/><circle cx="76.28" cy="681.7" r="2.3" fill="#fff" stroke="#000" stroke-width="1.55"/><circle cx="84" cy="681.7" r="2.3" fill="#fff" stroke="#000" stroke-width="1.55"/><circle cx="91.72" cy="681.7" r="2.3" fill="#fff" stroke="#000" stroke-width="1.55"/><circle cx="99.43" cy="681.7" r="2.3" fill="#fff" stroke="#000" stroke-width="1.55"/><circle cx="107.15" cy="681.7" r="2.3" fill="#fff" stroke="#000" stroke-width="1.55"/><circle cx="114.86" cy="681.7" r="2.3" fill="#fff" stroke="#000" stroke-width="1.55"/><circle cx="122.58" cy="681.7" r="2.3" fill="#fff" stroke="#000" stroke-width="1.55"/><circle cx="130.3" cy="681.7" r="2.3" fill="#fff" stroke="#000" stroke-width="1.55"/><circle cx="130.3" cy="602.15" r="2.3" fill="#fff" stroke="#000" stroke-width="1.55"/><circle cx="138.01" cy="602.15" r="2.3" fill="#fff" stroke="#000" stroke-width="1.55"/><circle cx="138.01" cy="562.38" r="2.3" fill="#fff" stroke="#000" stroke-width="1.55"/><circle cx="145.73" cy="562.38" r="2.3" fill="#fff" stroke="#000" stroke-width="1.55"/><circle cx="153.44" cy="562.38" r="2.3" fill="#fff" stroke="#000" stroke-width="1.55"/><circle cx="161.16" cy="562.38" r="2.3" fill="#fff" stroke="#000" stroke-width="1.55"/><circle cx="161.16" cy="522.6" r="2.3" fill="#fff" stroke="#000" stroke-width="1.55"/><circle cx="168.88" cy="522.6" r="2.3" fill="#fff" stroke="#000" stroke-width="1.55"/><circle cx="176.59" cy="522.6" r="2.3" fill="#fff" stroke="#000" stroke-width="1.55"/><circle cx="184.31" cy="522.6" r="2.3" fill="#fff" stroke="#000" stroke-width="1.55"/><circle cx="192.02" cy="522.6" r="2.3" fill="#fff" stroke="#000" stroke-width="1.55"/><circle cx="199.74" cy="522.6" r="2.3" fill="#fff" stroke="#000" stroke-width="1.55"/><circle cx="207.46" cy="522.6" r="2.3" fill="#fff" stroke="#000" stroke-width="1.55"/><circle cx="292.33" cy="522.6" r="2.3" fill="#fff" stroke="#000" stroke-width="1.55"/>
<path d="M45.42 678.15L48.07 683.45L42.77 683.45Z" fill="#fff" stroke="#000" stroke-width="1.3"/><path d="M53.14 678.15L55.79 683.45L50.49 683.45Z" fill="#fff" stroke="#000" stroke-width="1.3"/><path d="M60.85 678.15L63.5 683.45L58.2 683.45Z" fill="#fff" stroke="#000" stroke-width="1.3"/><path d="M68.57 678.15L71.22 683.45L65.92 683.45Z" fill="#fff" stroke="#000" stroke-width="1.3"/><path d="M76.28 678.15L78.93 683.45L73.63 683.45Z" fill="#fff" stroke="#000" stroke-width="1.3"/><path d="M84 678.15L86.65 683.45L81.35 683.45Z" fill="#fff" stroke="#000" stroke-width="1.3"/><path d="M91.72 678.15L94.37 683.45L89.07 683.45Z" fill="#fff" stroke="#000" stroke-width="1.3"/><path d="M99.43 678.15L102.08 683.45L96.78 683.45Z" fill="#fff" stroke="#000" stroke-width="1.3"/><path d="M107.15 678.15L109.8 683.45L104.5 683.45Z" fill="#fff" stroke="#000" stroke-width="1.3"/><path d="M114.86 678.15L117.51 683.45L112.21 683.45Z" fill="#fff" stroke="#000" stroke-width="1.3"/><path d="M122.58 678.15L125.23 683.45L119.93 683.45Z" fill="#fff" stroke="#000" stroke-width="1.3"/><path d="M130.3 678.15L132.95 683.45L127.65 683.45Z" fill="#fff" stroke="#000" stroke-width="1.3"/><path d="M138.01 678.15L140.66 683.45L135.36 683.45Z" fill="#fff" stroke="#000" stroke-width="1.3"/><path d="M145.73 678.15L148.38 683.45L143.08 683.45Z" fill="#fff" stroke="#000" stroke-width="1.3"/><path d="M153.44 678.15L156.09 683.45L150.79 683.45Z" fill="#fff" stroke="#000" stroke-width="1.3"/><path d="M161.16 678.15L163.81 683.45L158.51 683.45Z" fill="#fff" stroke="#000" stroke-width="1.3"/><path d="M168.88 678.15L171.53 683.45L166.23 683.45Z" fill="#fff" stroke="#000" stroke-width="1.3"/><path d="M176.59 678.15L179.24 683.45L173.94 683.45Z" fill="#fff" stroke="#000" stroke-width="1.3"/><path d="M184.31 678.15L186.96 683.45L181.66 683.45Z" fill="#fff" stroke="#000" stroke-width="1.3"/><path d="M192.02 678.15L194.67 683.45L189.37 683.45Z" fill="#fff" stroke="#000" stroke-width="1.3"/><path d="M199.74 678.15L202.39 683.45L197.09 683.45Z" fill="#fff" stroke="#000" stroke-width="1.3"/><path d="M207.46 678.15L210.11 683.45L204.81 683.45Z" fill="#fff" stroke="#000" stroke-width="1.3"/><path d="M292.33 678.15L294.98 683.45L289.68 683.45Z" fill="#fff" stroke="#000" stroke-width="1.3"/>
<circle cx="45.42" cy="681.7" r="3" fill="#000"/><circle cx="53.14" cy="681.7" r="3" fill="#000"/><circle cx="60.85" cy="681.7" r="3" fill="#000"/><circle cx="68.57" cy="681.7" r="3" fill="#000"/><circle cx="76.28" cy="681.7" r="3" fill="#000"/><circle cx="84" cy="681.7" r="3" fill="#000"/><circle cx="91.72" cy="681.7" r="3" fill="#000"/><circle cx="99.43" cy="681.7" r="3" fill="#000"/><circle cx="107.15" cy="681.7" r="3" fill="#000"/><circle cx="114.86" cy="681.7" r="3" fill="#000"/><circle cx="122.58" cy="681.7" r="3" fill="#000"/><circle cx="130.3" cy="681.7" r="3" fill="#000"/><circle cx="138.01" cy="681.7" r="3" fill="#000"/><circle cx="145.73" cy="681.7" r="3" fill="#000"/><circle cx="153.44" cy="681.7" r="3" fill="#000"/><circle cx="153.44" cy="655.18" r="3" fill="#000"/><circle cx="161.16" cy="655.18" r="3" fill="#000"/><circle cx="168.88" cy="655.18" r="3" fill="#000"/><circle cx="176.59" cy="655.18" r="3" fill="#000"/><circle cx="184.31" cy="655.18" r="3" fill="#000"/><circle cx="184.31" cy="628.67" r="3" fill="#000"/><circle cx="192.02" cy="628.67" r="3" fill="#000"/><circle cx="199.74" cy="628.67" r="3" fill="#000"/><circle cx="207.46" cy="628.67" r="3" fill="#000"/><circle cx="292.33" cy="628.67" r="3" fill="#000"/><circle cx="292.33" cy="602.15" r="3" fill="#000"/>
<path d="M45.42 677.5L48.72 684.1L42.12 684.1Z" fill="#000"/><path d="M53.14 677.5L56.44 684.1L49.84 684.1Z" fill="#000"/><path d="M60.85 677.5L64.15 684.1L57.55 684.1Z" fill="#000"/><path d="M68.57 677.5L71.87 684.1L65.27 684.1Z" fill="#000"/><path d="M76.28 677.5L79.58 684.1L72.98 684.1Z" fill="#000"/><path d="M84 677.5L87.3 684.1L80.7 684.1Z" fill="#000"/><path d="M91.72 677.5L95.02 684.1L88.42 684.1Z" fill="#000"/><path d="M99.43 677.5L102.73 684.1L96.13 684.1Z" fill="#000"/><path d="M107.15 677.5L110.45 684.1L103.85 684.1Z" fill="#000"/><path d="M114.86 677.5L118.16 684.1L111.56 684.1Z" fill="#000"/><path d="M122.58 677.5L125.88 684.1L119.28 684.1Z" fill="#000"/><path d="M130.3 677.5L133.6 684.1L127 684.1Z" fill="#000"/><path d="M138.01 677.5L141.31 684.1L134.71 684.1Z" fill="#000"/><path d="M145.73 677.5L149.03 684.1L142.43 684.1Z" fill="#000"/><path d="M153.44 677.5L156.74 684.1L150.14 684.1Z" fill="#000"/><path d="M161.16 677.5L164.46 684.1L157.86 684.1Z" fill="#000"/><path d="M161.16 645.68L164.46 652.28L157.86 652.28Z" fill="#000"/><path d="M168.88 645.68L172.18 652.28L165.58 652.28Z" fill="#000"/><path d="M176.59 645.68L179.89 652.28L173.29 652.28Z" fill="#000"/><path d="M184.31 645.68L187.61 652.28L181.01 652.28Z" fill="#000"/><path d="M192.02 645.68L195.32 652.28L188.72 652.28Z" fill="#000"/><path d="M199.74 645.68L203.04 652.28L196.44 652.28Z" fill="#000"/><path d="M207.46 645.68L210.76 652.28L204.16 652.28Z" fill="#000"/><path d="M292.33 645.68L295.63 652.28L289.03 652.28Z" fill="#000"/>
<path d="M42.52 678.8L48.32 684.6M42.52 684.6L48.32 678.8" stroke="#000" stroke-width="2.2" fill="none"/><path d="M50.24 678.8L56.04 684.6M50.24 684.6L56.04 678.8" stroke="#000" stroke-width="2.2" fill="none"/><path d="M57.95 678.8L63.75 684.6M57.95 684.6L63.75 678.8" stroke="#000" stroke-width="2.2" fill="none"/><path d="M65.67 678.8L71.47 684.6M65.67 684.6L71.47 678.8" stroke="#000" stroke-width="2.2" fill="none"/><path d="M73.38 678.8L79.18 684.6M73.38 684.6L79.18 678.8" stroke="#000" stroke-width="2.2" fill="none"/><path d="M81.1 678.8L86.9 684.6M81.1 684.6L86.9 678.8" stroke="#000" stroke-width="2.2" fill="none"/><path d="M88.82 678.8L94.62 684.6M88.82 684.6L94.62 678.8" stroke="#000" stroke-width="2.2" fill="none"/><path d="M96.53 678.8L102.33 684.6M96.53 684.6L102.33 678.8" stroke="#000" stroke-width="2.2" fill="none"/><path d="M104.25 678.8L110.05 684.6M104.25 684.6L110.05 678.8" stroke="#000" stroke-width="2.2" fill="none"/><path d="M111.96 678.8L117.76 684.6M111.96 684.6L117.76 678.8" stroke="#000" stroke-width="2.2" fill="none"/><path d="M119.68 678.8L125.48 684.6M119.68 684.6L125.48 678.8" stroke="#000" stroke-width="2.2" fill="none"/><path d="M127.4 678.8L133.2 684.6M127.4 684.6L133.2 678.8" stroke="#000" stroke-width="2.2" fill="none"/><path d="M135.11 678.8L140.91 684.6M135.11 684.6L140.91 678.8" stroke="#000" stroke-width="2.2" fill="none"/><path d="M142.83 678.8L148.63 684.6M142.83 684.6L148.63 678.8" stroke="#000" stroke-width="2.2" fill="none"/><path d="M150.54 678.8L156.34 684.6M150.54 684.6L156.34 678.8" stroke="#000" stroke-width="2.2" fill="none"/><path d="M158.26 678.8L164.06 684.6M158.26 684.6L164.06 678.8" stroke="#000" stroke-width="2.2" fill="none"/><path d="M165.98 678.8L171.78 684.6M165.98 684.6L171.78 678.8" stroke="#000" stroke-width="2.2" fill="none"/><path d="M173.69 678.8L179.49 684.6M173.69 684.6L179.49 678.8" stroke="#000" stroke-width="2.2" fill="none"/><path d="M181.41 678.8L187.21 684.6M181.41 684.6L187.21 678.8" stroke="#000" stroke-width="2.2" fill="none"/><path d="M189.12 678.8L194.92 684.6M189.12 684.6L194.92 678.8" stroke="#000" stroke-width="2.2" fill="none"/><path d="M196.84 678.8L202.64 684.6M196.84 684.6L202.64 678.8" stroke="#000" stroke-width="2.2" fill="none"/><path d="M204.56 678.8L210.36 684.6M204.56 684.6L210.36 678.8" stroke="#000" stroke-width="2.2" fill="none"/><path d="M289.43 678.8L295.23 684.6M289.43 684.6L295.23 678.8" stroke="#000" stroke-width="2.2" fill="none"/>
<path d="M316 558.7H348.3" stroke="#000" stroke-width="1.5"/>
<path d="M329.31 554.71L337.29 562.69M329.31 562.69L337.29 554.71" stroke="#000" stroke-width="2.6" fill="none"/>
<path d="M316 579.4H348.3" stroke="#000" stroke-width="1.5"/>
<circle cx="333.3" cy="579.4" r="3.33" fill="none" stroke="#000" stroke-width="1.7"/>
<path d="M316 600.3H348.3" stroke="#000" stroke-width="1.5"/>
<circle cx="333.3" cy="600.3" r="4.35" fill="#000"/>
<path d="M316 621.2H348.3" stroke="#000" stroke-width="1.5"/>
<path d="M333.3 616L338 625.6L328.6 625.6Z" fill="#000"/>
<path d="M316 642H348.3" stroke="#000" stroke-width="1.5"/>
<path d="M333.3 637.8L337 645.4L329.6 645.4Z" fill="#fff" stroke="#000" stroke-width="2"/>
<text transform="translate(0.06 18.2) scale(1.09 1)" font-size="24.5" font-weight="bold" style="stroke:none">A</text>
<text x="-0.51" y="271.25" font-size="24.5" font-weight="bold" style="stroke:none">B</text>
<text x="0.24" y="518.4" font-size="24.5" font-weight="bold" style="stroke:none">C</text>
<text transform="translate(20.53 31.28) scale(1.13 1)" font-size="11.3" letter-spacing="0.09">100</text>
<text transform="translate(25.79 71.61) scale(1.13 1)" font-size="11.3" letter-spacing="0.22">75</text>
<text transform="translate(25.82 111.51) scale(1.13 1)" font-size="11.3" letter-spacing="-0.17">50</text>
<text transform="translate(25.11 151.75) scale(1.13 1)" font-size="11.3" letter-spacing="-0.06">25</text>
<text transform="translate(31.49 191.81) scale(1.13 1)" font-size="11.3">0</text>
<text transform="translate(43.69 202.96) scale(1.13 1)" font-size="11.3">0</text>
<text transform="translate(117.73 202.93) scale(1.13 1)" font-size="11.3" letter-spacing="-0.62">10</text>
<text transform="translate(194.11 202.75) scale(1.13 1)" font-size="11.3" letter-spacing="0.37">20</text>
<text transform="translate(272.05 203.19) scale(1.13 1)" font-size="11.3" letter-spacing="0.42">30</text>
<text transform="translate(23.02 280.59) scale(1.17 1)" font-size="10.6" letter-spacing="-0.21">100</text>
<text transform="translate(28.29 319.99) scale(1.17 1)" font-size="10.6" letter-spacing="0.16">75</text>
<text transform="translate(27.93 360.27) scale(1.17 1)" font-size="10.6" letter-spacing="-0.24">50</text>
<text transform="translate(28.03 400.52) scale(1.17 1)" font-size="10.6" letter-spacing="-0.21">25</text>
<text transform="translate(33.91 439.91) scale(1.17 1)" font-size="10.6">0</text>
<text transform="translate(42.11 451.26) scale(1.17 1)" font-size="10.6">0</text>
<text transform="translate(118.02 451.38) scale(1.17 1)" font-size="10.6" letter-spacing="-0.23">10</text>
<text transform="translate(193.23 451.65) scale(1.17 1)" font-size="10.6" letter-spacing="0.45">20</text>
<text transform="translate(270.96 451.64) scale(1.17 1)" font-size="10.6" letter-spacing="-0.01">30</text>
<text transform="translate(23.15 528.04) scale(1.14 1)" font-size="10.6" letter-spacing="-0.26">100</text>
<text transform="translate(28.31 567.59) scale(1.14 1)" font-size="10.6" letter-spacing="-0.26">75</text>
<text transform="translate(27.55 605.52) scale(1.14 1)" font-size="10.6" letter-spacing="-0.13">50</text>
<text transform="translate(27.64 646.77) scale(1.14 1)" font-size="10.6" letter-spacing="-0.2">25</text>
<text transform="translate(33.82 685.91) scale(1.14 1)" font-size="10.6">0</text>
<text transform="translate(42.52 698.56) scale(1.14 1)" font-size="10.6">0</text>
<text transform="translate(117.15 698.48) scale(1.14 1)" font-size="10.6" letter-spacing="-0.04">10</text>
<text transform="translate(193.24 698.9) scale(1.14 1)" font-size="10.6" letter-spacing="0.75">20</text>
<text transform="translate(270.98 698.89) scale(1.14 1)" font-size="10.6" letter-spacing="0.28">30</text>
<text transform="translate(98.75 226.8) scale(1 1.1)" font-size="14" letter-spacing="0.42">Days after inoculation</text>
<text transform="translate(98.55 475.85) scale(1 1.1)" font-size="14" letter-spacing="0.41">Days after inoculation</text>
<text transform="translate(100.55 721.85) scale(1 1.1)" font-size="14" letter-spacing="0.37">Days after inoculation</text>
<text transform="translate(11.57 151.28) rotate(-90)" font-size="13.5" letter-spacing="0.47">% of tumor bearer</text>
<text transform="translate(11.32 399.78) rotate(-90)" font-size="13.5" letter-spacing="0.48">% of tumor bearer</text>
<text transform="translate(11.02 651.98) rotate(-90)" font-size="13.5" letter-spacing="0.5">% of tumor bearer</text>
<text transform="translate(49.71 44.2) scale(0.92 1.05)" font-size="18" letter-spacing="1.22" style="stroke-width:0.28px">v-Akt</text>
<text transform="translate(48.69 293.3) scale(0.87 0.98)" font-size="18" letter-spacing="2.73" style="stroke-width:0.45px">p110CAAX</text>
<text transform="translate(48.78 540.5) scale(1 1.02)" font-size="18" letter-spacing="-0.12" style="stroke-width:0.12px">v-H-Ras</text>
<text x="359.37" y="69.06" font-size="10.6" letter-spacing="0.7" style="stroke-width:0.2px">Ba/F3</text>
<text x="358.95" y="89.66" font-size="10.6" letter-spacing="1.85" style="stroke-width:0.2px">v-Abl</text>
<text x="358.95" y="110.46" font-size="10.6" letter-spacing="1.52" style="stroke-width:0.2px">v-Abl</text>
<text x="391.77" y="110.46" font-size="10.6" style="font-family:'Liberation Serif',serif;stroke-width:0.2px" fill="#333">Δ</text>
<text x="399.26" y="110.46" font-size="10.6" letter-spacing="1.12" style="stroke-width:0.2px">858-1080</text>
<text x="358.95" y="131.56" font-size="10.6" letter-spacing="1.04" style="stroke-width:0.2px">v-Akt/v-Abl</text>
<text x="422.47" y="131.56" font-size="10.6" style="font-family:'Liberation Serif',serif;stroke-width:0.2px" fill="#333">Δ</text>
<text x="429.36" y="131.56" font-size="10.6" letter-spacing="1.25" style="stroke-width:0.2px">858-1080</text>
<text x="358.95" y="152.66" font-size="10.6" letter-spacing="0.89" style="stroke-width:0.2px">v-Akt</text>
<text x="358.47" y="322.36" font-size="10.6" letter-spacing="1" style="stroke-width:0.2px">Ba/F3</text>
<text x="358.75" y="343.26" font-size="10.6" letter-spacing="1.62" style="stroke-width:0.2px">v-Abl</text>
<text x="358.75" y="364.26" font-size="10.6" letter-spacing="1.67" style="stroke-width:0.2px">v-Abl</text>
<text x="391.57" y="364.26" font-size="10.6" style="font-family:'Liberation Serif',serif;stroke-width:0.2px" fill="#333">Δ</text>
<text x="398.76" y="364.26" font-size="10.6" letter-spacing="1.08" style="stroke-width:0.2px">858-1080</text>
<text x="358.18" y="385.46" font-size="10.6" letter-spacing="1.55" style="stroke-width:0.2px">p110CAAX/v-Abl</text>
<text x="459.77" y="385.46" font-size="10.6" style="font-family:'Liberation Serif',serif;stroke-width:0.2px" fill="#333">Δ</text>
<text x="466.66" y="385.46" font-size="10.6" letter-spacing="0.99" style="stroke-width:0.2px">858-1080</text>
<text x="358.18" y="406.26" font-size="10.6" letter-spacing="1.93" style="stroke-width:0.2px">p110CAAX</text>
<text x="358.07" y="561.56" font-size="10.6" letter-spacing="1" style="stroke-width:0.2px">Ba/F3</text>
<text x="358.55" y="582.26" font-size="10.6" letter-spacing="1.67" style="stroke-width:0.2px">v-Abl</text>
<text x="358.55" y="603.16" font-size="10.6" letter-spacing="1.52" style="stroke-width:0.2px">v-Abl</text>
<text x="390.97" y="603.16" font-size="10.6" style="font-family:'Liberation Serif',serif;stroke-width:0.2px" fill="#333">Δ</text>
<text x="398.46" y="603.16" font-size="10.6" letter-spacing="1.03" style="stroke-width:0.2px">858-1080</text>
<text x="358.55" y="624.06" font-size="10.6" letter-spacing="0.86" style="stroke-width:0.2px">v-H-ras/v-Abl</text>
<text x="433.57" y="624.06" font-size="10.6" style="font-family:'Liberation Serif',serif;stroke-width:0.2px" fill="#333">Δ</text>
<text x="440.26" y="624.06" font-size="10.6" letter-spacing="1.19" style="stroke-width:0.2px">858-1080</text>
<text x="358.55" y="644.86" font-size="10.6" letter-spacing="0.55" style="stroke-width:0.2px">v-H-ras</text>
</svg>
</body></html>
